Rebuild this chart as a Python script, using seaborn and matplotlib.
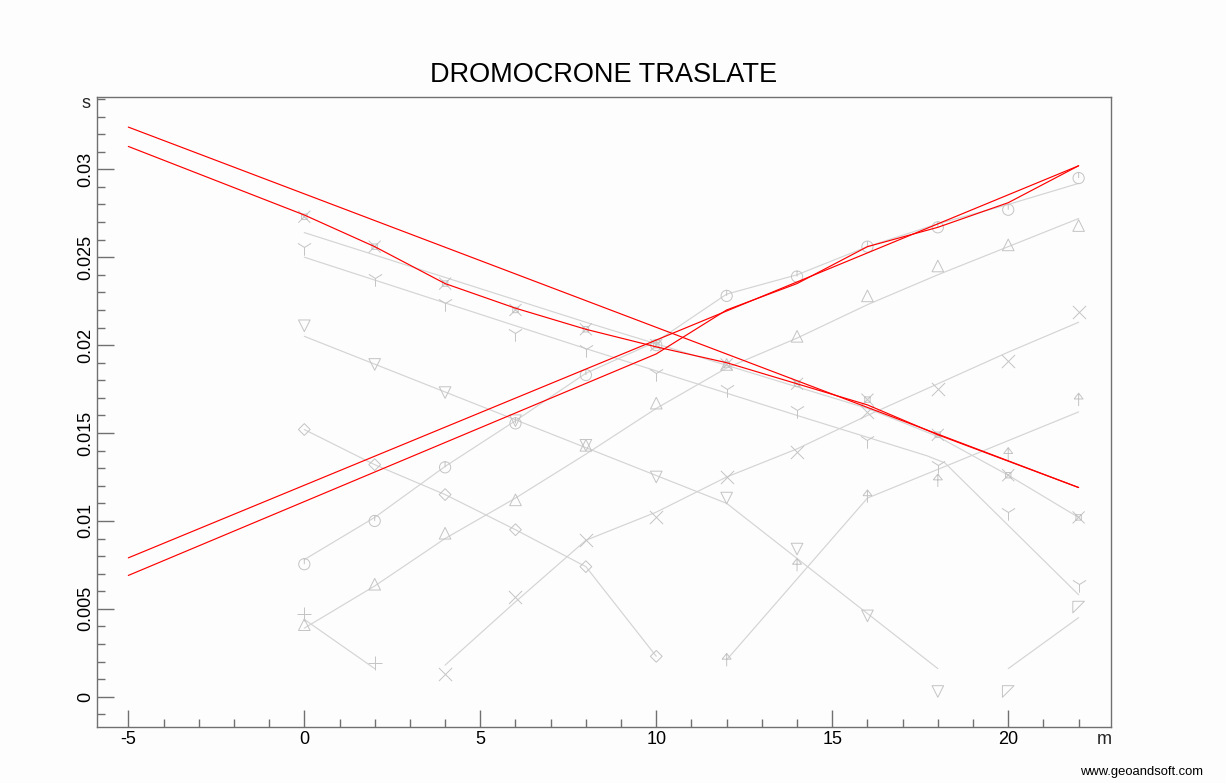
import matplotlib
matplotlib.use("Agg")
import matplotlib.pyplot as plt
from matplotlib.path import Path
from matplotlib.ticker import FixedLocator, FixedFormatter, MultipleLocator
import seaborn as sns

# ---------------- travel-time data (offset in m, time in s) ----------------
x_full = [0, 2, 4, 6, 8, 10, 12, 14, 16, 18, 20, 22]

# shot with circle symbols
circ_t = [0.00754, 0.0100, 0.01305, 0.01555, 0.0183, 0.0200, 0.0228, 0.0239, 0.0256, 0.0267, 0.0277, 0.0295]
circ_line_t = [0.0078, 0.0102, 0.0131, 0.0157, 0.0184, 0.0202, 0.0229, 0.0240, 0.0256, 0.0269, 0.0280, 0.0292]

# shot with up-triangle symbols
tri_t = [0.0041, 0.0064, 0.0093, 0.0112, 0.0143, 0.0167, 0.0189, 0.0205, 0.0228, 0.0245, 0.0257, 0.0268]
tri_line_t = [0.0039, 0.0063, 0.0090, 0.0113, 0.0138, 0.0164, 0.0187, 0.0204, 0.0223, 0.0240, 0.0256, 0.0272]

# shot with "Y" symbols
ysym_t = [0.0256, 0.0238, 0.0224, 0.0207, 0.0198, 0.0184, 0.0175, 0.0163, 0.0146, 0.0132, 0.0105, 0.0064]
ysym_line_x = [0, 8, 14, 17.7, 18.2, 22]
ysym_line_t = [0.0250, 0.0198, 0.0160, 0.0137, 0.0133, 0.0058]

# shot with crossed-square symbols
sqx_t = [0.0273, 0.0256, 0.0235, 0.0220, 0.0209, 0.0200, 0.0189, 0.0178, 0.0169, 0.0149, 0.0126, 0.0102]
sqx_line_x = [0, 8, 16, 18, 20, 22]
sqx_line_t = [0.0264, 0.0213, 0.0164, 0.0148, 0.0126, 0.0102]

# shot with down-triangle symbols
vdn_x = [0, 2, 4, 6, 8, 10, 12, 14, 16, 18]
vdn_t = [0.0211, 0.0189, 0.0173, 0.0157, 0.0143, 0.0125, 0.0113, 0.0084, 0.0046, 0.0003]
vdn_line_x = [0, 12, 18]
vdn_line_t = [0.0205, 0.0110, 0.0016]

# shot with diamond symbols
diam_x = [0, 2, 4, 6, 8, 10]
diam_t = [0.0152, 0.0132, 0.0115, 0.0095, 0.0074, 0.0023]

# shot with plus symbols
plus_x = [0, 2]
plus_t = [0.0047, 0.0019]
plus_line_t = [0.0044, 0.0016]

# shot with x symbols
cross_x = [4, 6, 8, 10, 12, 14, 16, 18, 20, 22]
cross_t = [0.0013, 0.0057, 0.0089, 0.0102, 0.0125, 0.0139, 0.0162, 0.0175, 0.0191, 0.0219]
cross_line_t = [0.0018, 0.0054, 0.0089, 0.0105, 0.0125, 0.0141, 0.0160, 0.0178, 0.0196, 0.0213]

# shot with arrow symbols
arrow_x = [12, 14, 16, 18, 20, 22]
arrow_t = [0.0021, 0.0075, 0.0114, 0.0123, 0.0138, 0.0169]
arrow_line_x = [12, 16, 22]
arrow_line_t = [0.0021, 0.0113, 0.0162]

# shot with corner-triangle symbols
rtri_x = [20, 22]
rtri_t = [0.0003, 0.0051]
rtri_line_t = [0.0016, 0.0045]

# translated (shifted) travel-time curves
red_up_a_x = [-5, 22]
red_up_a_t = [0.0079, 0.0302]
red_up_b_x = [-5, 10, 12, 14, 16, 18, 20, 22]
red_up_b_t = [0.0069, 0.0195, 0.0220, 0.0235, 0.0256, 0.0267, 0.0281, 0.0302]
red_dn_a_x = [-5, 22]
red_dn_a_t = [0.0324, 0.0119]
red_dn_b_x = [-5, 0, 2, 4, 6, 8, 10, 12, 14, 16, 18, 20, 22]
red_dn_b_t = [0.0313, 0.0274, 0.0256, 0.0235, 0.0221, 0.0209, 0.0199, 0.0190, 0.0178, 0.0166, 0.0149, 0.0134, 0.0119]

x_major = [-5, 0, 5, 10, 15, 20]
x_labels = ["-5", "0", "5", "10", "15", "20"]
y_major = [0, 0.005, 0.01, 0.015, 0.02, 0.025, 0.03]
y_labels = ["0", "0.005", "0.01", "0.015", "0.02", "0.025", "0.03"]

# ---------------- styling ----------------
sns.set_theme(style="white")
plt.rcParams["font.family"] = ["Liberation Sans", "DejaVu Sans"]

BG = "#fcfdfc"
LINE_GRAY = "#d4d4d4"
MARK_GRAY = "#c4c4c4"
FRAME = "#707070"
RED = "#ff0000"

# custom symbols
circ_tick = Path.make_compound_path(Path.unit_circle(), Path([(0, 0), (0, 1.0)]))
sq_cross = Path.make_compound_path(
    Path([(-0.45, -0.45), (0.45, -0.45), (0.45, 0.45), (-0.45, 0.45), (-0.45, -0.45)]),
    Path([(-1, -1), (1, 1)]),
    Path([(-1, 1), (1, -1)]),
)
arrow_sym = Path.make_compound_path(
    Path([(-0.7, 0.1), (0, 1.0), (0.7, 0.1), (-0.7, 0.1)]),
    Path([(0, 1.0), (0, -1.0)]),
)
corner_tri = Path([(-1, 1), (1, 1), (-1, -1), (-1, 1)])

W, H = 1226, 783
fig = plt.figure(figsize=(W / 100, H / 100), dpi=100, facecolor=BG)
ax = fig.add_axes([97 / W, 1 - 727 / H, (1111 - 97) / W, (727 - 96.5) / H])
ax.set_facecolor(BG)


def gray_line(xs, ts):
    sns.lineplot(x=xs, y=ts, estimator=None, sort=False, color=LINE_GRAY,
                 lw=0.85, ax=ax, zorder=2)


def hollow_marks(xs, ts, marker, s=65):
    sns.scatterplot(x=xs, y=ts, marker=marker, s=s, facecolor="none",
                    edgecolor=MARK_GRAY, linewidth=0.7, ax=ax, zorder=3)


def stroke_marks(xs, ts, marker, s=75):
    sns.scatterplot(x=xs, y=ts, marker=marker, s=s, color=MARK_GRAY,
                    linewidth=0.7, ax=ax, zorder=3)


# field travel-time curves (gray)
gray_line(x_full, circ_line_t)
hollow_marks(x_full, circ_t, circ_tick, s=65)

gray_line(x_full, tri_line_t)
hollow_marks(x_full, tri_t, "^", s=70)

gray_line(ysym_line_x, ysym_line_t)
stroke_marks(x_full, ysym_t, "1", s=140)

gray_line(sqx_line_x, sqx_line_t)
hollow_marks(x_full, sqx_t, sq_cross, s=75)

gray_line(vdn_line_x, vdn_line_t)
hollow_marks(vdn_x, vdn_t, "v", s=70)

gray_line(diam_x, diam_t)
hollow_marks(diam_x, diam_t, "D", s=36)

gray_line(plus_x, plus_line_t)
stroke_marks(plus_x, plus_t, "+", s=90)

gray_line(cross_x, cross_line_t)
stroke_marks(cross_x, cross_t, "x", s=90)

gray_line(arrow_line_x, arrow_line_t)
hollow_marks(arrow_x, arrow_t, arrow_sym, s=85)

gray_line(rtri_x, rtri_line_t)
hollow_marks(rtri_x, rtri_t, corner_tri, s=70)

# translated curves (red)
for xs, ts in [(red_up_a_x, red_up_a_t), (red_up_b_x, red_up_b_t),
               (red_dn_a_x, red_dn_a_t), (red_dn_b_x, red_dn_b_t)]:
    sns.lineplot(x=xs, y=ts, estimator=None, sort=False, color=RED,
                 lw=0.85, ax=ax, zorder=4)

# axes limits and ticks
ax.set_xlim(-5.89, 22.92)
ax.set_ylim(-0.00172, 0.03414)
ax.xaxis.set_major_locator(FixedLocator(x_major))
ax.xaxis.set_major_formatter(FixedFormatter(x_labels))
ax.xaxis.set_minor_locator(MultipleLocator(1))
ax.yaxis.set_major_locator(FixedLocator(y_major))
ax.yaxis.set_major_formatter(FixedFormatter(y_labels))
ax.yaxis.set_minor_locator(MultipleLocator(0.001))

ax.tick_params(which="both", direction="in", color=FRAME, width=1.0,
               labelsize=13, labelcolor="black", bottom=True, left=True,
               top=False, right=False)
ax.tick_params(which="major", length=12)
ax.tick_params(which="minor", length=6)
ax.tick_params(axis="x", which="major", pad=3)
ax.tick_params(axis="y", which="major", pad=2)
for lab in ax.get_yticklabels():
    lab.set_rotation(90)
    lab.set_va("center")

for sp in ax.spines.values():
    sp.set_visible(True)
    sp.set_color(FRAME)
    sp.set_linewidth(1.0)

ax.set_xlabel("")
ax.set_ylabel("")

# titles and unit labels
fig.text(604 / W, 1 - 75 / H, "DROMOCRONE TRASLATE", ha="center", va="center",
         fontsize=19.5, color="black")
fig.text(86 / W, 1 - 103 / H, "s", ha="center", va="center", fontsize=13)
fig.text(1104 / W, 1 - 740 / H, "m", ha="center", va="center", fontsize=13)
fig.text(1203 / W, 1 - 772 / H, "www.geoandsoft.com", ha="right", va="center",
         fontsize=9.4, color="black")

fig.savefig("out.png", dpi=100, facecolor=BG)
